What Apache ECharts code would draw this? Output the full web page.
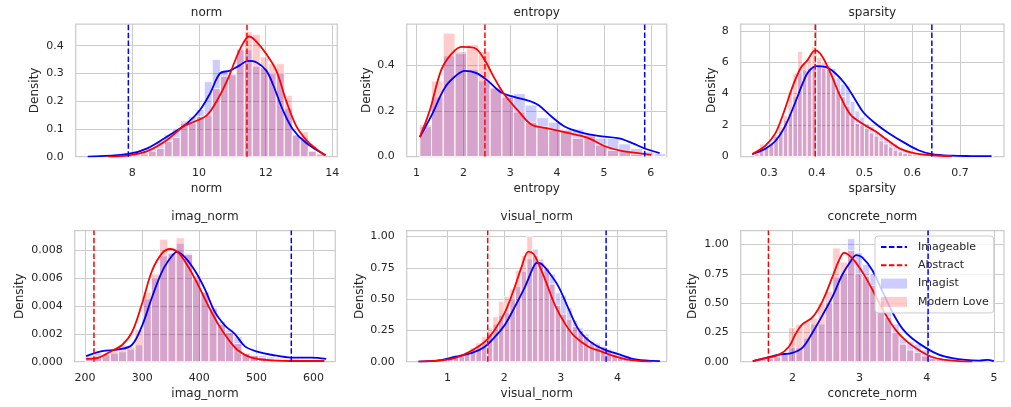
<!DOCTYPE html>
<html>
<head>
<meta charset="utf-8">
<script src="https://cdn.jsdelivr.net/npm/echarts@6/dist/echarts.min.js"></script>
<style>
  html, body { margin: 0; padding: 0; background: #fff; }
  #chart { width: 1011px; height: 407px; }
</style>
</head>
<body>
<div id="chart"></div>
<script>
// panel order: top row left->right, then bottom row
const panelNames = ['norm', 'entropy', 'sparsity', 'imag_norm', 'visual_norm', 'concrete_norm'];

const xMin = [6.3, 0.79, 0.241, 182, 0.28, 1.23];
const xMax = [14.15, 6.34, 0.792, 638, 4.87, 5.15];
const yMax = [0.478, 0.58, 8.43, 0.00943, 1.048, 1.12];

const xTicks = [
  [8, 10, 12, 14],
  [1, 2, 3, 4, 5, 6],
  [0.3, 0.4, 0.5, 0.6, 0.7],
  [200, 300, 400, 500, 600],
  [1, 2, 3, 4],
  [2, 3, 4, 5]
];
const yTicks = [
  [0, 0.1, 0.2, 0.3, 0.4],
  [0, 0.2, 0.4],
  [0, 2, 4, 6, 8],
  [0, 0.002, 0.004, 0.006, 0.008],
  [0, 0.25, 0.5, 0.75, 1],
  [0, 0.25, 0.5, 0.75, 1]
];
const xDigits = [0, 0, 1, 0, 0, 0];
const yDigits = [1, 1, 0, 3, 2, 2];

// dashed reference lines
const imageableCut = [7.88, 5.87, 0.641, 561, 3.80, 4.02];
const abstractCut = [11.44, 2.46, 0.397, 215.7, 1.71, 1.643];

// histogram bins
const binStart = [8.0, 1.07, 0.27, 201, 0.8, 1.5];
const binWidth = [0.24, 0.25, 0.01, 14.4, 0.1, 0.11];

const normImagist = [0.01, 0.015, 0.03, 0.055, 0.08, 0.1, 0.12, 0.145, 0.17, 0.27, 0.35, 0.31, 0.30, 0.39, 0.385, 0.325, 0.32, 0.30, 0.30, 0.175, 0.08, 0.07, 0.02, 0.008];
const normModern = [0.005, 0.01, 0.02, 0.03, 0.055, 0.07, 0.13, 0.12, 0.145, 0.15, 0.245, 0.29, 0.295, 0.385, 0.45, 0.44, 0.36, 0.335, 0.335, 0.22, 0.078, 0.09, 0.02, 0.01];

const entropyImagist = [0.13, 0.26, 0.44, 0.45, 0.38, 0.33, 0.30, 0.27, 0.275, 0.225, 0.17, 0.15, 0.12, 0.12, 0.09, 0.08, 0.08, 0.055, 0.035, 0.02, 0.012];
const entropyModern = [0.14, 0.33, 0.54, 0.46, 0.49, 0.46, 0.30, 0.26, 0.195, 0.15, 0.13, 0.115, 0.115, 0.08, 0.10, 0.05, 0.026, 0.023, 0.01, 0.005, 0];

const sparsityImagist = [0.1, 0.3, 0.5, 0.8, 1.4, 1.6, 2.3, 2.7, 3.8, 5.3, 5.5, 5.6, 5.7, 5.8, 5.6, 5.5, 5.6, 5.0, 4.6, 4.5,
  3.5, 2.9, 2.5, 2.1, 1.9, 1.6, 1.4, 1.2, 1.0, 0.8, 0.6, 0.45, 0.3, 0.2, 0.15, 0.1, 0.07, 0.05, 0.04, 0.03,
  0.03, 0.02, 0.02, 0.02, 0.01, 0.01, 0.01, 0.01, 0.01, 0.01];
const sparsityModern = [0.2, 0.8, 0.6, 0.9, 1.3, 1.9, 2.6, 4.1, 5.3, 6.7, 5.9, 6.2, 7.0, 6.3, 6.0, 5.8, 5.0, 4.2, 3.8, 3.2,
  2.6, 2.1, 2.0, 1.8, 1.5, 1.3, 1.0, 0.8, 0.6, 0.4, 0.3, 0.2, 0.15, 0.1, 0.05, 0.03, 0.02];

const imagNormImagist = [0.0004, 0.0006, 0.00055, 0.0006, 0.0007, 0.0009, 0.0012, 0.0045, 0.006, 0.0076, 0.0078, 0.0085, 0.0078, 0.0059, 0.005,
  0.0039, 0.0029, 0.0023, 0.0018, 0.0006, 0.0005, 0.00045, 0.00035, 0.00025, 0.0002, 0.0002, 0.00015, 0.00015, 0.00015];
const imagNormModern = [0.0002, 0.0004, 0.0005, 0.0008, 0.0012, 0.0011, 0.0023, 0.005, 0.0063, 0.0088, 0.0078, 0.0089, 0.0077, 0.0062, 0.005,
  0.0038, 0.0027, 0.0021, 0.0013, 0.0006, 0.00045, 0.0003, 0.0002, 0.00015, 0.0001, 0.00005, 0.00003, 0.00002, 0.00002];

const visualImagist = [0.01, 0.02, 0.03, 0.05, 0.06, 0.07, 0.10, 0.13, 0.15, 0.22, 0.3, 0.37, 0.39, 0.5, 0.6, 0.72, 0.82, 0.9, 0.82, 0.75,
  0.7, 0.55, 0.53, 0.43, 0.33, 0.27, 0.22, 0.17, 0.15, 0.13, 0.10, 0.08, 0.05, 0.04, 0.03, 0.02, 0.015, 0.01, 0.01];
const visualModern = [0.01, 0.02, 0.03, 0.04, 0.06, 0.08, 0.11, 0.15, 0.2, 0.27, 0.36, 0.48, 0.52, 0.58, 0.73, 0.85, 1.0, 0.85, 0.8, 0.75,
  0.62, 0.45, 0.38, 0.34, 0.28, 0.25, 0.2, 0.16, 0.14, 0.12, 0.08, 0.06, 0.03, 0.02, 0.01, 0.005, 0.005, 0, 0];

const concreteImagist = [0.03, 0.05, 0.06, 0.06, 0.12, 0.12, 0.2, 0.32, 0.32, 0.5, 0.72, 0.75, 1.05, 0.93, 0.83, 0.75, 0.55, 0.45, 0.32, 0.2,
  0.17, 0.15, 0.1, 0.05, 0.03, 0.02, 0.015, 0.01, 0.01, 0.01, 0.015, 0.01];
const concreteModern = [0.02, 0.03, 0.04, 0.06, 0.29, 0.32, 0.34, 0.37, 0.5, 0.6, 0.97, 0.85, 0.95, 0.75, 0.73, 0.65, 0.52, 0.38, 0.25, 0.15,
  0.1, 0.08, 0.05, 0.03, 0.02, 0.01];

// kde curves, [x, density]
const normKdeImagist = [[6.66, 0.0], [7.88, 0.01], [8.45, 0.03], [9.14, 0.08], [9.64, 0.12], [10.04, 0.17], [10.34, 0.23], [10.63, 0.30], [10.93, 0.31],
  [11.23, 0.33], [11.47, 0.345], [11.72, 0.34], [12.02, 0.31], [12.22, 0.26], [12.51, 0.17], [12.81, 0.10], [13.21, 0.05], [13.8, 0.005]];
const normKdeModern = [[7.27, 0.0], [7.88, 0.005], [8.45, 0.02], [9.04, 0.06], [9.54, 0.11], [9.84, 0.125], [10.24, 0.15], [10.53, 0.2], [10.83, 0.27],
  [11.13, 0.36], [11.33, 0.41], [11.5, 0.433], [11.68, 0.42], [12.02, 0.37], [12.32, 0.31], [12.62, 0.2], [12.92, 0.11], [13.22, 0.06], [13.5, 0.03], [13.78, 0.005]];

const entropyKdeImagist = [[1.07, 0.085], [1.32, 0.18], [1.6, 0.30], [1.82, 0.35], [2.03, 0.375], [2.28, 0.365], [2.53, 0.33], [2.81, 0.28], [3.1, 0.26],
  [3.38, 0.245], [3.6, 0.225], [3.88, 0.175], [4.17, 0.13], [4.52, 0.105], [4.88, 0.09], [5.3, 0.08], [5.59, 0.06], [5.87, 0.035], [6.19, 0.015]];
const entropyKdeModern = [[1.07, 0.085], [1.28, 0.2], [1.53, 0.38], [1.75, 0.45], [1.96, 0.48], [2.24, 0.475], [2.46, 0.42], [2.67, 0.34], [2.88, 0.27],
  [3.17, 0.2], [3.45, 0.14], [3.74, 0.125], [4.09, 0.11], [4.52, 0.09], [4.73, 0.075], [5.02, 0.045], [5.37, 0.025], [5.73, 0.015], [6.01, 0.007]];

const sparsityKdeImagist = [[0.265, 0.15], [0.293, 0.5], [0.314, 1.0], [0.335, 2.0], [0.356, 3.5], [0.37, 4.6], [0.383, 5.4], [0.4, 5.75], [0.418, 5.7],
  [0.439, 5.3], [0.46, 4.6], [0.481, 3.6], [0.498, 2.8], [0.523, 2.1], [0.55, 1.5], [0.585, 0.85], [0.613, 0.4], [0.641, 0.15], [0.683, 0.05], [0.724, 0.03], [0.766, 0.02]];
const sparsityKdeModern = [[0.265, 0.15], [0.293, 0.7], [0.314, 1.5], [0.331, 2.8], [0.349, 4.4], [0.366, 5.6], [0.38, 6.1], [0.397, 6.75], [0.411, 6.4],
  [0.429, 5.3], [0.45, 3.8], [0.47, 2.7], [0.495, 2.1], [0.523, 1.6], [0.55, 1.0], [0.578, 0.45], [0.606, 0.2], [0.641, 0.08], [0.683, 0.02]];

const imagNormKdeImagist = [[202, 0.0004], [230, 0.00076], [259, 0.00088], [282, 0.0012], [300, 0.0026], [317, 0.0046], [335, 0.0065], [352, 0.0076],
  [361, 0.0079], [375, 0.0075], [393, 0.0065], [410, 0.0052], [427, 0.0036], [445, 0.0026], [462, 0.002], [480, 0.0011], [503, 0.0007], [526, 0.0005],
  [561, 0.0003], [596, 0.0003], [622, 0.0002]];
const imagNormKdeModern = [[202, 0.0002], [224, 0.0003], [248, 0.0008], [265, 0.0012], [282, 0.0021], [300, 0.0042], [317, 0.0065], [335, 0.0078],
  [349, 0.0081], [364, 0.0078], [381, 0.0068], [398, 0.0055], [416, 0.004], [433, 0.0027], [451, 0.0016], [468, 0.0008], [491, 0.0003], [526, 0.0001],
  [573, 0.00005], [619, 0.00005]];

const visualKdeImagist = [[0.49, 0.0], [0.84, 0.01], [1.14, 0.04], [1.43, 0.07], [1.66, 0.12], [1.84, 0.2], [2.02, 0.3], [2.19, 0.44], [2.37, 0.6],
  [2.52, 0.76], [2.58, 0.79], [2.66, 0.78], [2.78, 0.72], [2.96, 0.6], [3.14, 0.42], [3.31, 0.26], [3.49, 0.17], [3.66, 0.12], [3.84, 0.085],
  [4.02, 0.06], [4.25, 0.025], [4.49, 0.01], [4.75, 0.005]];
const visualKdeModern = [[0.49, 0.0], [0.84, 0.008], [1.14, 0.03], [1.43, 0.09], [1.66, 0.16], [1.84, 0.26], [2.02, 0.4], [2.19, 0.6], [2.31, 0.76],
  [2.43, 0.88], [2.52, 0.86], [2.61, 0.78], [2.72, 0.66], [2.9, 0.45], [3.08, 0.3], [3.25, 0.2], [3.49, 0.12], [3.72, 0.08], [3.9, 0.05],
  [4.14, 0.02], [4.37, 0.006], [4.61, 0.0]];

const concreteKdeImagist = [[1.41, 0.005], [1.6, 0.03], [1.8, 0.06], [2.0, 0.075], [2.15, 0.12], [2.3, 0.25], [2.45, 0.4], [2.6, 0.56], [2.74, 0.74],
  [2.87, 0.86], [2.95, 0.91], [3.04, 0.89], [3.19, 0.78], [3.34, 0.6], [3.49, 0.42], [3.64, 0.28], [3.78, 0.2], [3.98, 0.12], [4.18, 0.06],
  [4.38, 0.03], [4.58, 0.015], [4.78, 0.01], [4.9, 0.015], [5.0, 0.005]];
const concreteKdeModern = [[1.41, 0.005], [1.6, 0.03], [1.8, 0.06], [1.95, 0.13], [2.05, 0.24], [2.15, 0.32], [2.3, 0.38], [2.45, 0.52], [2.6, 0.73],
  [2.69, 0.86], [2.77, 0.93], [2.84, 0.91], [2.94, 0.85], [3.09, 0.72], [3.24, 0.56], [3.39, 0.4], [3.54, 0.27], [3.69, 0.18], [3.88, 0.1],
  [4.08, 0.04], [4.28, 0.015], [4.48, 0.005], [4.68, 0.0]];

const imagistHist = [normImagist, entropyImagist, sparsityImagist, imagNormImagist, visualImagist, concreteImagist];
const modernHist = [normModern, entropyModern, sparsityModern, imagNormModern, visualModern, concreteModern];
const imagistKde = [normKdeImagist, entropyKdeImagist, sparsityKdeImagist, imagNormKdeImagist, visualKdeImagist, concreteKdeImagist];
const modernKde = [normKdeModern, entropyKdeModern, sparsityKdeModern, imagNormKdeModern, visualKdeModern, concreteKdeModern];

// layout
const boxes = [
  {left: 75.7, top: 24, width: 261.6, height: 132.7},
  {left: 406.7, top: 24, width: 260, height: 132.5},
  {left: 740.7, top: 24, width: 263.3, height: 132.5},
  {left: 74.7, top: 230.5, width: 260.6, height: 131.2},
  {left: 406.7, top: 230.5, width: 260, height: 131.2},
  {left: 740.7, top: 230.5, width: 263.3, height: 131.2}
];
const yNameGap = [35, 32.5, 23, 49, 40, 41.5];

const FONT = 'DejaVu Sans';
const TEXT = '#262626';
const GRIDC = '#cccccc';
const BLUE_FILL = 'rgba(0,0,255,0.2)';
const RED_FILL = 'rgba(255,0,0,0.2)';

function binRows(i, heights) {
  return heights.map((h, k) => [binStart[i] + k * binWidth[i], binStart[i] + (k + 1) * binWidth[i], h]);
}

function histItem(fill) {
  return function (params, api) {
    const a = api.coord([api.value(0), 0]);
    const b = api.coord([api.value(1), api.value(2)]);
    return {
      type: 'rect',
      shape: {x: a[0], y: b[1], width: b[0] - a[0], height: a[1] - b[1]},
      style: {fill: fill, stroke: 'rgba(255,255,255,0.75)', lineWidth: 1}
    };
  };
}

const grids = [], xAxes = [], yAxes = [], titles = [], series = [];

for (let i = 0; i < 6; i++) {
  const bx = boxes[i];
  grids.push({
    left: bx.left, top: bx.top, width: bx.width, height: bx.height,
    show: true, borderColor: GRIDC, borderWidth: 1.25, backgroundColor: 'transparent'
  });
  titles.push({
    text: panelNames[i],
    left: bx.left + bx.width / 2,
    top: i < 3 ? 7 : 211,
    textAlign: 'center',
    padding: 0,
    textStyle: {fontFamily: FONT, fontSize: 12, fontWeight: 'normal', color: TEXT}
  });
  xAxes.push({
    gridIndex: i, type: 'value', min: xMin[i], max: xMax[i],
    name: panelNames[i], nameLocation: 'middle', nameGap: 26,
    nameTextStyle: {fontFamily: FONT, fontSize: 12, color: TEXT},
    axisLine: {show: false},
    axisTick: {show: false, customValues: xTicks[i]},
    axisLabel: {
      customValues: xTicks[i], margin: 11,
      fontFamily: FONT, fontSize: 11, color: TEXT,
      formatter: (v) => Number(v).toFixed(xDigits[i])
    },
    splitLine: {show: true, lineStyle: {color: GRIDC, width: 1}}
  });
  yAxes.push({
    gridIndex: i, type: 'value', min: 0, max: yMax[i],
    name: 'Density', nameLocation: 'middle', nameGap: yNameGap[i],
    nameTextStyle: {fontFamily: FONT, fontSize: 12, color: TEXT},
    axisLine: {show: false},
    axisTick: {show: false, customValues: yTicks[i]},
    axisLabel: {
      customValues: yTicks[i], margin: 12,
      fontFamily: FONT, fontSize: 11, color: TEXT,
      formatter: (v) => Number(v).toFixed(yDigits[i])
    },
    splitLine: {show: true, lineStyle: {color: GRIDC, width: 1}}
  });

  series.push({
    type: 'custom', name: 'Imagist', xAxisIndex: i, yAxisIndex: i,
    renderItem: histItem(BLUE_FILL), itemStyle: {color: BLUE_FILL},
    encode: {x: [0, 1], y: 2}, data: binRows(i, imagistHist[i]), z: 1
  });
  series.push({
    type: 'custom', name: 'Modern Love', xAxisIndex: i, yAxisIndex: i,
    renderItem: histItem(RED_FILL), itemStyle: {color: RED_FILL},
    encode: {x: [0, 1], y: 2}, data: binRows(i, modernHist[i]), z: 2
  });
  series.push({
    type: 'line', name: 'Imagist kde', xAxisIndex: i, yAxisIndex: i,
    data: imagistKde[i], smooth: 0.35, symbol: 'none',
    lineStyle: {color: '#0000ff', width: 1.8}, itemStyle: {color: '#0000ff'}, z: 3
  });
  series.push({
    type: 'line', name: 'Modern Love kde', xAxisIndex: i, yAxisIndex: i,
    data: modernKde[i], smooth: 0.35, symbol: 'none',
    lineStyle: {color: '#ff0000', width: 1.8}, itemStyle: {color: '#ff0000'}, z: 3
  });
  series.push({
    type: 'line', name: 'Imageable', xAxisIndex: i, yAxisIndex: i,
    data: [[imageableCut[i], 0], [imageableCut[i], yMax[i]]], symbol: 'none',
    lineStyle: {color: '#0000ff', width: 1.5, type: [5.5, 2.4]}, itemStyle: {color: '#0000ff'}, z: 4
  });
  series.push({
    type: 'line', name: 'Abstract', xAxisIndex: i, yAxisIndex: i,
    data: [[abstractCut[i], 0], [abstractCut[i], yMax[i]]], symbol: 'none',
    lineStyle: {color: '#ff0000', width: 1.5, type: [5.5, 2.4]}, itemStyle: {color: '#ff0000'}, z: 4
  });
}

const chart = echarts.init(document.getElementById('chart'), null, {renderer: 'canvas'});
chart.setOption({
  animation: false,
  backgroundColor: '#ffffff',
  title: titles,
  grid: grids,
  xAxis: xAxes,
  yAxis: yAxes,
  legend: {
    data: [
      {name: 'Imageable', itemStyle: {opacity: 0}},
      {name: 'Abstract', itemStyle: {opacity: 0}},
      {name: 'Imagist', icon: 'rect'},
      {name: 'Modern Love', icon: 'rect'}
    ],
    orient: 'vertical',
    left: 875, top: 236,
    itemWidth: 26, itemHeight: 10, itemGap: 4.3,
    padding: [4, 5, 4, 5],
    backgroundColor: 'rgba(255,255,255,0.8)',
    borderColor: GRIDC, borderWidth: 1, borderRadius: 3,
    textStyle: {fontFamily: FONT, fontSize: 11, color: TEXT, lineHeight: 14, padding: [0, 0, 0, 6]}
  },
  series: series
});
</script>
</body>
</html>
